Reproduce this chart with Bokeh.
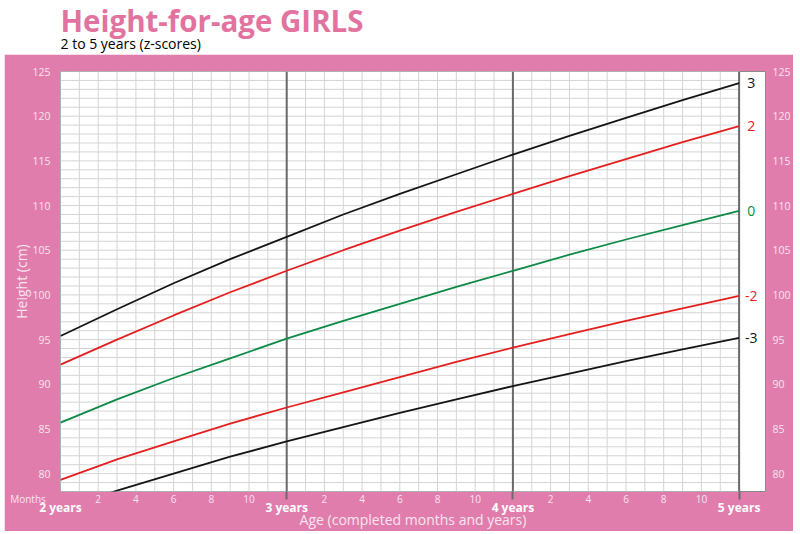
import numpy as np
from bokeh.plotting import figure
from bokeh.models import FixedTicker, LinearAxis
from bokeh.layouts import column
from bokeh.core.properties import value
from bokeh.embed import file_html
from bokeh.resources import INLINE

# ---- data (WHO height-for-age, girls 2-5 years, z-scores) ----
months = [24, 27, 30, 33, 36, 39, 42, 45, 48, 51, 54, 57, 60]
sd3 = [95.4, 98.4, 101.3, 104.0, 106.5, 109.0, 111.3, 113.5, 115.7, 117.8, 119.8, 121.8, 123.7]
sd2 = [92.2, 95.0, 97.7, 100.3, 102.7, 105.0, 107.2, 109.3, 111.3, 113.3, 115.2, 117.1, 118.9]
sd0 = [85.7, 88.3, 90.7, 92.9, 95.1, 97.1, 99.0, 100.9, 102.7, 104.5, 106.2, 107.8, 109.4]
sd2neg = [79.3, 81.6, 83.6, 85.6, 87.4, 89.1, 90.8, 92.5, 94.1, 95.6, 97.1, 98.5, 99.9]
sd3neg = [76.0, 78.1, 80.0, 81.9, 83.6, 85.2, 86.8, 88.3, 89.8, 91.2, 92.6, 93.9, 95.2]
curve_labels = ["3", "2", "0", "-2", "-3"]

year_ticks = [24, 36, 48, 60]
year_labels = ["2 years", "3 years", "4 years", "5 years"]
month_ticks = [m for m in range(26, 60, 2) if m % 12 != 0]
month_labels = [str(m % 12) for m in month_ticks]
y_ticks = list(range(80, 126, 5))

PINK = "#e07dac"
TITLE_PINK = "#e2739f"
LIGHT = "#fbe4ef"
FONT = "Open Sans"
BLACK = "#151515"
RED = "#e3201f"
GREEN = "#0c8a46"

FW, FH = 705, 420
BL, BR, BT, BB = 56, 28, 17, 38

# ---- heading (frame aligned with the chart frame) ----
head = figure(width=BL + FW + BR, height=54, x_range=(0, FW), y_range=(0, 54),
              output_backend="svg", toolbar_location=None, title=None,
              min_border_left=BL, min_border_right=BR, min_border_top=0, min_border_bottom=0,
              x_axis_location=None, y_axis_location=None)
head.title_location = None
head.grid.visible = False
head.outline_line_color = None
head.text(x=[0], y=[34], text=["Height-for-age GIRLS"], text_font=value(FONT),
          text_font_style="bold", text_font_size="29.5px", text_color=TITLE_PINK,
          text_baseline="middle")
head.text(x=[0], y=[11], text=["2 to 5 years (z-scores)"], text_font=value(FONT),
          text_font_size="14px", text_color="black", text_baseline="middle")

# ---- chart ----
x0, x1 = 24, 61.4
y0, y1 = 78, 125
p = figure(frame_width=FW, frame_height=FH, x_range=(x0, x1), y_range=(y0, y1),
           output_backend="svg", toolbar_location=None,
           min_border_left=BL, min_border_right=BR, min_border_top=BT, min_border_bottom=BB,
           border_fill_color=PINK, background_fill_color="white",
           outline_line_color="#8a8a8a", outline_line_width=1)
p.title.visible = False
p.grid.visible = False

# fine grid (months x cm), limited to 2-5 years
gm = np.arange(24, 61, 1)
p.segment(x0=gm, y0=[y0] * len(gm), x1=gm, y1=[y1] * len(gm), line_color="#d4d4d4", line_width=1)
gh = np.arange(78, 126, 1)
p.segment(x0=[24] * len(gh), y0=gh, x1=[60] * len(gh), y1=gh, line_color="#d4d4d4", line_width=1)
# year lines
yl = year_ticks[1:]
p.segment(x0=yl, y0=[y0] * len(yl), x1=yl, y1=[y1] * len(yl), line_color="#6a6a6a", line_width=2)

series = [(sd3, BLACK), (sd2, RED), (sd0, GREEN), (sd2neg, RED), (sd3neg, BLACK)]
for vals, col in series:
    p.line(months, vals, line_color=col, line_width=1.8)

p.text(x=[60.64] * 5, y=[s[0][-1] for s in series], text=curve_labels,
       text_color=[s[1] for s in series], text_font=value(FONT), text_font_size="14px",
       text_align="center", text_baseline="middle")

# left axis
ya = p.yaxis[0]
ya.ticker = FixedTicker(ticks=y_ticks)
ya.axis_line_color = None
ya.major_tick_line_color = None
ya.major_tick_out = 0
ya.major_tick_in = 0
ya.minor_tick_line_color = None
ya.minor_tick_out = 0
ya.major_label_standoff = 10
ya.major_label_text_color = LIGHT
ya.major_label_text_font = FONT
ya.major_label_text_font_size = "10.5px"
ya.axis_label = "Height (cm)"
ya.axis_label_text_font = FONT
ya.axis_label_text_font_size = "14px"
ya.axis_label_text_font_style = "normal"
ya.axis_label_text_color = LIGHT
ya.axis_label_standoff = -2

# right axis
ra = LinearAxis(ticker=FixedTicker(ticks=y_ticks), axis_line_color=None,
                major_tick_line_color=None, minor_tick_line_color=None,
                major_tick_out=0, major_tick_in=0, minor_tick_out=0,
                major_label_standoff=7, major_label_text_color=LIGHT,
                major_label_text_font=FONT, major_label_text_font_size="10.5px")
p.add_layout(ra, "right")

# bottom axis 1: months ("Months" caption sits left of the 2-year mark)
xa = p.xaxis[0]
xa.ticker = FixedTicker(ticks=[24] + month_ticks, minor_ticks=year_ticks[1:])
overrides = dict(zip(month_ticks, month_labels))
overrides[24] = "Months" + "\u00a0" * 25
xa.major_label_overrides = overrides
xa.axis_line_color = None
xa.major_tick_line_color = None
xa.major_tick_out = 0
xa.major_tick_in = 0
xa.minor_tick_in = 0
xa.minor_tick_out = 8
xa.minor_tick_line_color = "#6a6a6a"
xa.minor_tick_line_width = 2
xa.major_label_standoff = -8
xa.major_label_text_color = LIGHT
xa.major_label_text_font = FONT
xa.major_label_text_font_size = "10px"

# bottom axis 2: years + title
xb = LinearAxis(ticker=FixedTicker(ticks=year_ticks),
                major_label_overrides=dict(zip(year_ticks, year_labels)),
                axis_line_color=None, major_tick_line_color=None, minor_tick_line_color=None,
                major_tick_out=0, major_tick_in=0, minor_tick_out=0,
                major_label_standoff=-10, major_label_text_color="white",
                major_label_text_font=FONT, major_label_text_font_style="bold",
                major_label_text_font_size="12px",
                axis_label="Age (completed months and years)", axis_label_text_font=FONT,
                axis_label_text_font_size="14px", axis_label_text_font_style="normal",
                axis_label_text_color=LIGHT, axis_label_standoff=-9)
p.add_layout(xb, "below")

open("out.html", "w").write(file_html(column(head, p, spacing=0, margin=(0, 0, 0, 4)), INLINE))
